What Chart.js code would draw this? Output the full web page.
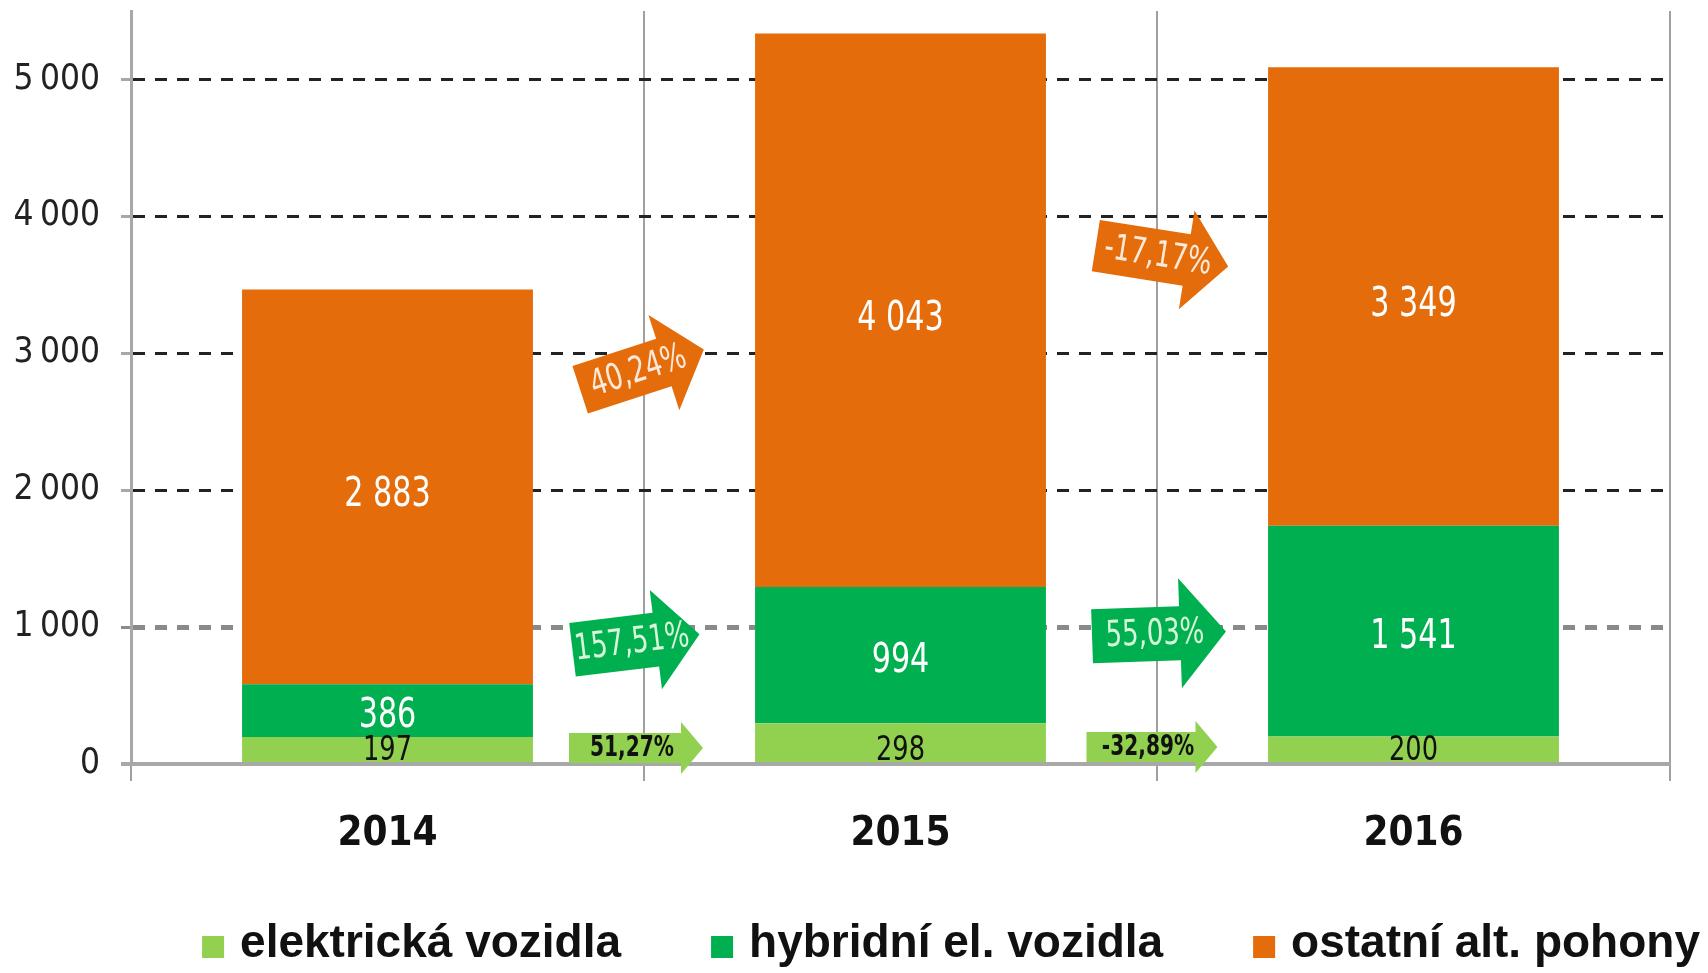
<!DOCTYPE html>
<html>
<head>
<meta charset="utf-8">
<script src="https://cdn.jsdelivr.net/npm/chart.js@4.4.1/dist/chart.umd.min.js"></script>
<style>
  html, body { margin: 0; padding: 0; background: #fff; }
  #wrap { width: 1708px; height: 973px; }
</style>
</head>
<body>
<div id="wrap"><canvas id="chart" width="1708" height="973"></canvas></div>
<script>
const years = ['2014', '2015', '2016'];
const elektricka = [197, 298, 200];
const hybridni = [386, 994, 1541];
const ostatni = [2883, 4043, 3349];
const yTicks = [0, 1000, 2000, 3000, 4000, 5000];
// year-on-year change labels, shown as arrows between the columns
const zmenyElektricka = ['51,27%', '-32,89%'];
const zmenyHybridni = ['157,51%', '55,03%'];
const zmenyOstatni = ['40,24%', '-17,17%'];

const NARROW = "'Liberation Sans Narrow', 'DejaVu Sans Condensed', 'Liberation Sans', sans-serif";

function thousands(v) {
  return String(v).replace(/\B(?=(\d{3})+(?!\d))/g, ' ');
}

// squeezed text, the original uses a narrow face
function narrowText(ctx, txt, x, y, squeeze) {
  ctx.save();
  ctx.translate(x, y);
  ctx.scale(squeeze, 1);
  ctx.fillText(txt, 0, 0);
  ctx.restore();
}

// value labels inside each segment
const segmentLabels = {
  id: 'segmentLabels',
  afterDatasetsDraw(chart) {
    const ctx = chart.ctx;
    chart.data.datasets.forEach((ds, i) => {
      const meta = chart.getDatasetMeta(i);
      meta.data.forEach((bar, j) => {
        const p = bar.getCenterPoint();
        // the thin bottom segment keeps its label just above the base line
        const y = ds.labelAtBase ? bar.base - ds.labelDy : p.y + ds.labelDy;
        ctx.save();
        ctx.fillStyle = ds.labelColor;
        ctx.font = ds.labelFont;
        ctx.textAlign = 'center';
        ctx.textBaseline = 'middle';
        narrowText(ctx, thousands(ds.data[j]), p.x, y, 0.84);
        ctx.restore();
      });
    });
  }
};

// arrow shapes between columns
const arrowLayout = [
  [{dx: -8, at: 117, angle: 0, len: 134, body: 15, wing: 26, head: 22},
   {dx: -5, at: 124, angle: 0, len: 131, body: 15, wing: 26, head: 22}],
  [{dx: -8, at: 891, angle: -7, len: 128, body: 27, wing: 50, head: 44},
   {dx: 2, at: 950, angle: -2, len: 134, body: 27, wing: 55, head: 46}],
  [{dx: -2, at: 2880, angle: -18, len: 130, body: 25, wing: 50, head: 42},
   {dx: 5, at: 3710, angle: 9, len: 134, body: 26, wing: 50, head: 42}]
];

const changeArrows = {
  id: 'changeArrows',
  afterDatasetsDraw(chart) {
    const ctx = chart.ctx;
    const xs = chart.scales.x, ys = chart.scales.y;
    chart.data.datasets.forEach((ds, i) => {
      ds.changes.forEach((txt, k) => {
        const a = arrowLayout[i][k];
        const cx = (xs.getPixelForValue(k) + xs.getPixelForValue(k + 1)) / 2 + a.dx;
        const cy = ys.getPixelForValue(a.at);
        const h = a.len / 2;
        ctx.save();
        ctx.translate(cx, cy);
        ctx.rotate(a.angle * Math.PI / 180);
        ctx.beginPath();
        ctx.moveTo(-h, -a.body);
        ctx.lineTo(h - a.head, -a.body);
        ctx.lineTo(h - a.head, -a.wing);
        ctx.lineTo(h, 0);
        ctx.lineTo(h - a.head, a.wing);
        ctx.lineTo(h - a.head, a.body);
        ctx.lineTo(-h, a.body);
        ctx.closePath();
        ctx.fillStyle = ds.backgroundColor;
        ctx.fill();
        ctx.fillStyle = ds.arrowTextColor;
        ctx.font = ds.arrowFont;
        ctx.textAlign = 'center';
        ctx.textBaseline = 'middle';
        narrowText(ctx, txt, -4, 1, 0.8);
        ctx.restore();
      });
    });
  }
};

// legend row at the bottom, right aligned
const bottomLegend = {
  id: 'bottomLegend',
  afterDraw(chart) {
    const ctx = chart.ctx;
    const box = 22, gapBox = 16, gapItem = 90, baseline = 957;
    ctx.save();
    ctx.font = "bold 46px 'Liberation Sans', Arial, sans-serif";
    ctx.textBaseline = 'alphabetic';
    const items = chart.data.datasets.map(ds => ({text: ds.label, color: ds.backgroundColor, w: ctx.measureText(ds.label).width}));
    const total = items.reduce((s, it) => s + box + gapBox + it.w, 0) + gapItem * (items.length - 1);
    let x = chart.width - 8 - total;
    items.forEach(it => {
      ctx.fillStyle = it.color;
      ctx.fillRect(x, baseline - box + 1, box, box);
      x += box + gapBox;
      ctx.fillStyle = '#111';
      ctx.fillText(it.text, x, baseline);
      x += it.w + gapItem;
    });
    ctx.restore();
  }
};

const ctx = document.getElementById('chart').getContext('2d');
new Chart(ctx, {
  type: 'bar',
  data: {
    labels: years,
    datasets: [
      {label: 'elektrická vozidla', data: elektricka, backgroundColor: '#92D050',
       changes: zmenyElektricka, labelColor: '#111', labelFont: '34px ' + NARROW, labelDy: 11, labelAtBase: true,
       arrowTextColor: '#111', arrowFont: 'bold 28px ' + NARROW},
      {label: 'hybridní el. vozidla', data: hybridni, backgroundColor: '#00B050',
       changes: zmenyHybridni, labelColor: '#fff', labelFont: '40px ' + NARROW, labelDy: 6,
       arrowTextColor: '#d8f7d8', arrowFont: '36px ' + NARROW},
      {label: 'ostatní alt. pohony', data: ostatni, backgroundColor: '#E46C0A',
       changes: zmenyOstatni, labelColor: '#fff', labelFont: '40px ' + NARROW, labelDy: 9,
       arrowTextColor: '#fde9d9', arrowFont: '36px ' + NARROW}
    ]
  },
  options: {
    responsive: false,
    animation: false,
    layout: {padding: {top: 11, right: 38, left: 0, bottom: 0}},
    datasets: {bar: {categoryPercentage: 1, barPercentage: 0.567, borderWidth: 0}},
    plugins: {legend: {display: false}, tooltip: {enabled: false}},
    scales: {
      x: {
        stacked: true,
        offset: true,
        grid: {offset: true, color: '#a0a0a0', lineWidth: 2, tickLength: 17, drawTicks: true},
        border: {display: true, color: '#a8a8a8', width: 4},
        ticks: {color: '#111', padding: 30, font: {family: NARROW, size: 40, weight: 'bold'}},
        afterFit(s) { s.height = 209; s.paddingLeft = 0; s.paddingRight = 0; }
      },
      y: {
        stacked: true,
        min: 0,
        max: 5500,
        afterBuildTicks(s) { s.ticks = yTicks.map(v => ({value: v})); },
        afterFit(s) { s.width = 131; s.paddingTop = 0; s.paddingBottom = 0; },
        grid: {
          drawTicks: true,
          tickLength: 10,
          color: c => c.tick.value === 0 ? '#a8a8a8' : (c.tick.value === 1000 ? '#8a8a8a' : '#222'),
          lineWidth: c => c.tick.value === 0 ? 4 : (c.tick.value === 1000 ? 5 : 3),
          tickColor: c => c.tick.value === 1000 ? '#8a8a8a' : '#a8a8a8',
          tickWidth: c => c.tick.value === 0 ? 4 : 3
        },
        border: {color: '#a8a8a8', width: 3, dash: c => c.tick && c.tick.value === 0 ? [] : [12, 10]},
        ticks: {
          color: '#222',
          padding: 21,
          font: {family: "'DejaVu Sans Condensed', 'DejaVu Sans', sans-serif", size: 35},
          callback: v => String(v).replace(/\B(?=(\d{3})+(?!\d))/g, '\u2009')
        }
      }
    }
  },
  plugins: [segmentLabels, changeArrows, bottomLegend]
});
</script>
</body>
</html>
